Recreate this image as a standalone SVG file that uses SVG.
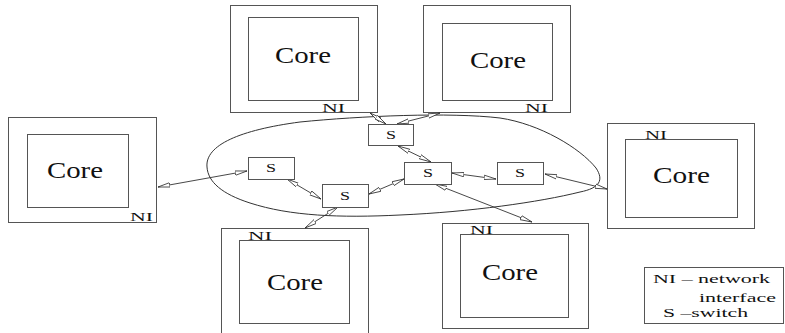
<svg xmlns="http://www.w3.org/2000/svg" width="785" height="333" viewBox="0 0 785 333">
  <style>
    .box { fill: none; stroke: #555; stroke-width: 1; }
    .sw { fill: #fff; stroke: #555; stroke-width: 1; }
    .core { font-size: 24px; }
    .ni { font-size: 12px; }
    .s { font-size: 13px; text-anchor: middle; }
    .leg { font-size: 13px; }
    .ring { fill: none; stroke: #333; stroke-width: 1; }
    .link { stroke: #333; stroke-width: 0.9; fill: none; marker-start: url(#ah); marker-end: url(#ah); }
  </style>
  <defs>
    <marker id="ah" viewBox="0 0 12 6" refX="12" refY="3" markerWidth="12" markerHeight="6" markerUnits="userSpaceOnUse" orient="auto-start-reverse">
      <path d="M0,0.8 L12,3 L0,5.2 Z" fill="#fff" stroke="#333" stroke-width="0.8"/>
    </marker>
  </defs>
  <rect width="785" height="333" fill="#fff"/>

  <g font-family="Liberation Serif, Times New Roman, serif" fill="#111">

  <!-- network boundary -->
  <path id="network" class="ring" d="M207,167 C205,145 240,130 300,122 C360,116 450,112 500,118 C540,124 580,148 596,168 C604,180 600,188 580,192 C540,202 470,212 400,215 C340,218 290,216 250,203 C222,194 208,182 207,167 Z"/>

  <!-- cores with network interfaces -->
  <g id="core-top-left">
    <rect class="box" x="230.5" y="5.5" width="147" height="107"/>
    <rect class="box" x="248.5" y="17.5" width="110" height="83"/>
    <text class="core" x="275" y="63" textLength="56" lengthAdjust="spacingAndGlyphs">Core</text>
    <text class="ni" x="322" y="112" textLength="23" lengthAdjust="spacingAndGlyphs">NI</text>
  </g>
  <g id="core-top-right">
    <rect class="box" x="423.5" y="5.5" width="147" height="107"/>
    <rect class="box" x="442.5" y="23.5" width="110" height="77"/>
    <text class="core" x="470" y="68" textLength="56" lengthAdjust="spacingAndGlyphs">Core</text>
    <text class="ni" x="525" y="112" textLength="23" lengthAdjust="spacingAndGlyphs">NI</text>
  </g>
  <g id="core-left">
    <rect class="box" x="8.5" y="117.5" width="148" height="105"/>
    <rect class="box" x="27.5" y="134.5" width="101" height="73"/>
    <text class="core" x="47" y="178" textLength="56" lengthAdjust="spacingAndGlyphs">Core</text>
    <text class="ni" x="130" y="221" textLength="23" lengthAdjust="spacingAndGlyphs">NI</text>
  </g>
  <g id="core-right">
    <rect class="box" x="607.5" y="123.5" width="147" height="105"/>
    <rect class="box" x="625.5" y="139.5" width="112" height="78"/>
    <text class="core" x="653" y="183" textLength="57" lengthAdjust="spacingAndGlyphs">Core</text>
    <text class="ni" x="645" y="139" textLength="22" lengthAdjust="spacingAndGlyphs">NI</text>
  </g>
  <g id="core-bottom-left">
    <rect class="box" x="221.5" y="228.5" width="147" height="110"/>
    <rect class="box" x="239.5" y="240.5" width="110" height="83"/>
    <text class="core" x="267" y="290" textLength="56" lengthAdjust="spacingAndGlyphs">Core</text>
    <text class="ni" x="248" y="240" textLength="24" lengthAdjust="spacingAndGlyphs">NI</text>
  </g>
  <g id="core-bottom-right">
    <rect class="box" x="442.5" y="223.5" width="146" height="105"/>
    <rect class="box" x="460.5" y="234.5" width="108" height="83"/>
    <text class="core" x="482" y="280" textLength="56" lengthAdjust="spacingAndGlyphs">Core</text>
    <text class="ni" x="470" y="234" textLength="23" lengthAdjust="spacingAndGlyphs">NI</text>
  </g>

  <!-- connectors -->
  <g id="links">
    <line class="link" x1="158" y1="187" x2="247" y2="171"/>
    <line class="link" x1="287" y1="179" x2="321" y2="199"/>
    <line class="link" x1="369" y1="194" x2="404" y2="179"/>
    <line class="link" x1="338" y1="207" x2="305" y2="228"/>
    <line class="link" x1="398" y1="146" x2="431" y2="162"/>
    <line class="link" x1="452" y1="173" x2="496" y2="179"/>
    <line class="link" x1="545" y1="174" x2="607" y2="189"/>
    <line class="link" x1="435" y1="184" x2="532" y2="222"/>
    <line class="link" x1="370" y1="113" x2="386" y2="124"/>
    <line class="link" x1="397" y1="124" x2="440" y2="113"/>
  </g>

  <!-- switches -->
  <g id="switch-top">
    <rect class="sw" x="368.5" y="124.5" width="45" height="21"/>
    <text class="s" x="391" y="139" textLength="10" lengthAdjust="spacingAndGlyphs">S</text>
  </g>
  <g id="switch-left">
    <rect class="sw" x="248.5" y="157.5" width="46" height="22"/>
    <text class="s" x="271" y="172" textLength="10" lengthAdjust="spacingAndGlyphs">S</text>
  </g>
  <g id="switch-bottom">
    <rect class="sw" x="322.5" y="184.5" width="46" height="23"/>
    <text class="s" x="345" y="200" textLength="10" lengthAdjust="spacingAndGlyphs">S</text>
  </g>
  <g id="switch-center">
    <rect class="sw" x="404.5" y="162.5" width="47" height="22"/>
    <text class="s" x="428" y="177" textLength="10" lengthAdjust="spacingAndGlyphs">S</text>
  </g>
  <g id="switch-right">
    <rect class="sw" x="497.5" y="162.5" width="46" height="22"/>
    <text class="s" x="520" y="177" textLength="10" lengthAdjust="spacingAndGlyphs">S</text>
  </g>

  <!-- legend -->
  <g id="legend">
    <rect class="box" x="644.5" y="267.5" width="139" height="56"/>
    <text class="leg" x="653" y="283" textLength="117" lengthAdjust="spacingAndGlyphs">NI – network</text>
    <text class="leg" x="699" y="302" textLength="77" lengthAdjust="spacingAndGlyphs">interface</text>
    <text class="leg" x="663" y="317" textLength="85" lengthAdjust="spacingAndGlyphs">S –switch</text>
  </g>

  </g>
</svg>
